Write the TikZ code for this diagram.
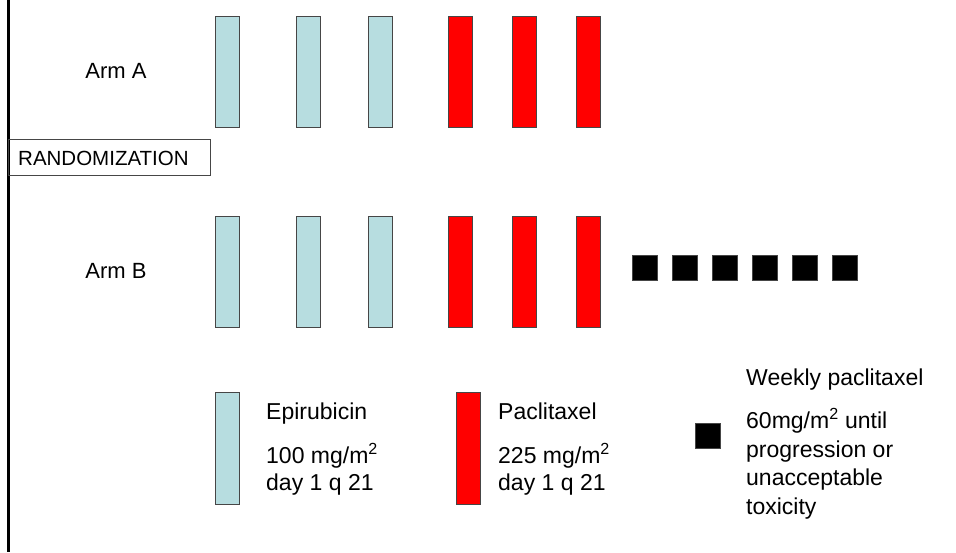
\documentclass[tikz,border=0pt]{standalone}
\usepackage{fontspec}
\setmainfont{Liberation Sans}
\definecolor{epiblue}{RGB}{183,221,224}
\definecolor{pacred}{RGB}{255,0,0}
\definecolor{edgegray}{RGB}{70,70,70}
\begin{document}
\begin{tikzpicture}[x=1pt,y=-1pt,
  dosebar/.style={draw=edgegray,line width=0.9pt,inner sep=0pt,outer sep=0pt,
    minimum width=24pt,minimum height=111pt,anchor=north west},
  epibar/.style={dosebar,fill=epiblue},
  pacbar/.style={dosebar,fill=pacred},
  weekly/.style={draw=edgegray,line width=0.6pt,fill=black,inner sep=0pt,outer sep=0pt,
    minimum width=25pt,minimum height=25pt,anchor=north west},
  armlabel/.style={font=\fontsize{22}{26}\selectfont,inner sep=0pt,anchor=base},
  legtext/.style={font=\fontsize{23}{28}\selectfont,inner sep=0pt,anchor=base west}]
\useasboundingbox[fill=white] (0,0) rectangle (956,552);

% timeline spine on the left
\draw[line width=2.6pt] (8.7,0) -- (8.7,552);

% randomization box
\draw[draw=edgegray,line width=0.9pt] (8.7,139.5) rectangle (210.5,175.5);
\node[font=\fontsize{20.5}{24}\selectfont,inner sep=0pt,anchor=base west] (rand) at (18,165.5) {RANDOMIZATION};

% arm labels
\node[armlabel] (armA) at (116,78) {Arm A};
\node[armlabel] (armB) at (116,278) {Arm B};

% arm A cycles
\node[epibar] (a1) at (215.5,16) {};
\node[epibar] (a2) at (296,16) {};
\node[epibar] (a3) at (368,16) {};
\node[pacbar] (a4) at (448,16) {};
\node[pacbar] (a5) at (512,16) {};
\node[pacbar] (a6) at (576,16) {};

% arm B cycles
\node[epibar] (b1) at (215.5,216) {};
\node[epibar] (b2) at (296,216) {};
\node[epibar] (b3) at (368,216) {};
\node[pacbar] (b4) at (448,216) {};
\node[pacbar] (b5) at (512,216) {};
\node[pacbar] (b6) at (576,216) {};

% weekly paclitaxel maintenance in arm B
\foreach \i in {0,...,5} {
  \node[weekly] (w\i) at (632+40*\i,255.5) {};
}

% legend
\node[epibar,minimum height=112pt] (legE) at (215.5,392) {};
\node[legtext] (legEname) at (266,419.5) {Epirubicin};
\node[legtext] (legEdose) at (266,463.5) {100 mg/m\textsuperscript{2}};
\node[legtext] (legEday) at (266,490.5) {day 1 q 21};

\node[pacbar,minimum height=112pt] (legP) at (456,392) {};
\node[legtext] (legPname) at (498,419.5) {Paclitaxel};
\node[legtext] (legPdose) at (498,463.5) {225 mg/m\textsuperscript{2}};
\node[legtext] (legPday) at (498,490.5) {day 1 q 21};

\node[weekly] (legW) at (695.5,423) {};
\node[legtext] (legWname) at (746,385) {Weekly paclitaxel};
\node[legtext] (legW1) at (746,428.5) {60mg/m\textsuperscript{2} until};
\node[legtext] (legW2) at (746,457) {progression or};
\node[legtext] (legW3) at (746,485.5) {unacceptable};
\node[legtext] (legW4) at (746,514) {toxicity};
\end{tikzpicture}
\end{document}
